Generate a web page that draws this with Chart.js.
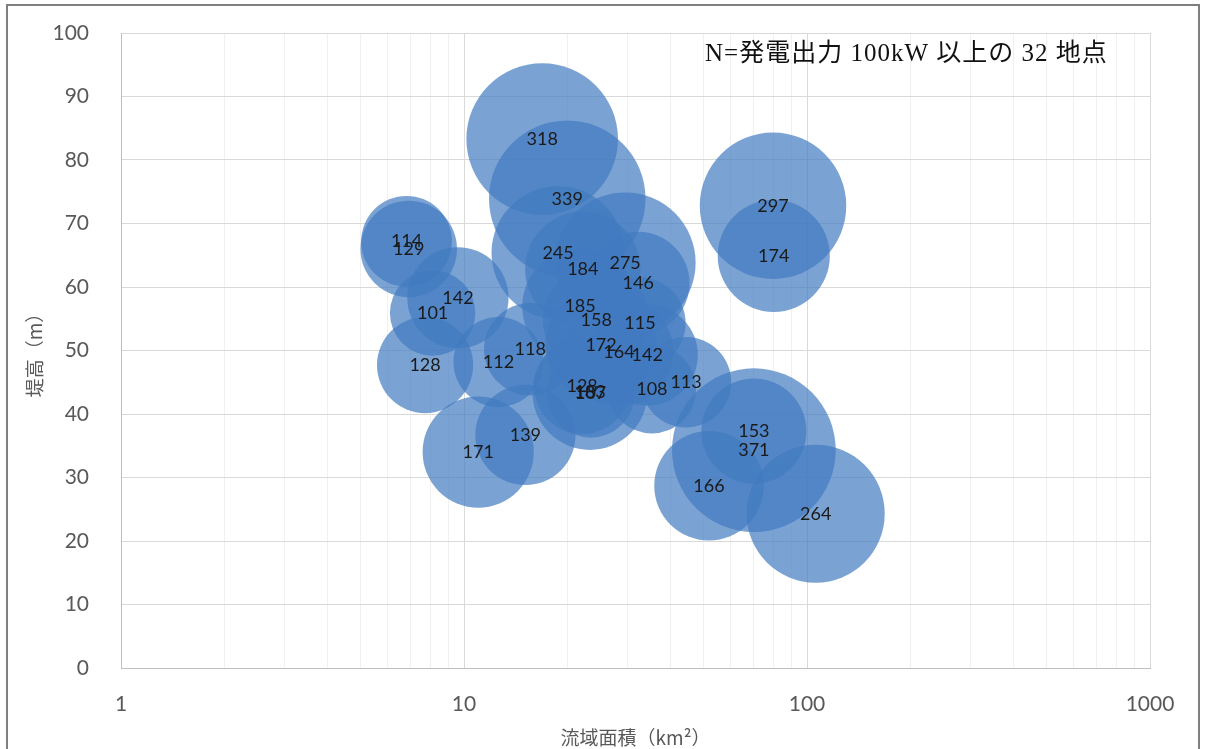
<!DOCTYPE html>
<html>
<head>
<meta charset="utf-8">
<script src="https://cdn.jsdelivr.net/npm/chart.js@4"></script>
<style>
  html, body { margin: 0; padding: 0; background: #fff; }
  #wrap { width: 1205px; height: 749px; position: relative; }
</style>
</head>
<body>
<div id="wrap"><canvas id="bubbleChart"></canvas></div>
<script>
// 流域面積 (km2), 堤高 (m), 発電出力 (kW)
const areaKm2 = [16.9, 20.0, 79.6, 80.0, 6.8, 6.9, 18.8, 22.2, 29.5, 32.2, 9.6, 8.1, 21.8, 24.3, 32.6, 7.7,
  12.6, 15.6, 25.1, 28.3, 34.2, 22.1, 23.3, 23.4, 35.3, 44.4, 15.1, 11.0, 70.0, 70.0, 51.8, 106];
const damHeightM = [83.3, 73.9, 72.8, 64.9, 67.2, 66.0, 65.4, 62.8, 63.8, 60.6, 58.3, 55.9, 56.9, 54.8, 54.3, 47.7,
  48.2, 50.2, 50.9, 49.8, 49.3, 44.4, 43.4, 43.2, 43.9, 45.0, 36.7, 34.0, 37.3, 34.3, 28.7, 24.3];
const outputKw = [318, 339, 297, 174, 114, 129, 245, 184, 275, 146, 142, 101, 185, 158, 115, 128,
  112, 118, 172, 164, 142, 128, 183, 107, 108, 113, 139, 171, 153, 371, 166, 264];

const xTickLabels = [1, 10, 100, 1000];
const yTicks = { min: 0, max: 100, step: 10 };
const noteText = "N=発電出力 100kW 以上の 32 地点";

// バブルの面積が出力に比例するように
const bubbleScale = 4.25;

const points = areaKm2.map((x, i) => ({
  x: x,
  y: damHeightM[i],
  r: bubbleScale * Math.sqrt(outputKw[i]),
  kw: outputKw[i]
}));

// 1-9, 10-90, 100-900, 1000 の目盛り（補助線用）
function logTicks() {
  const list = [];
  for (let d = 0; d < xTickLabels.length - 1; d++) {
    for (let m = 1; m < 10; m++) list.push({ value: m * xTickLabels[d] });
  }
  list.push({ value: xTickLabels[xTickLabels.length - 1] });
  return list;
}

// 背景・枠線・データラベル・注記
const extras = {
  id: "extras",
  beforeDraw(chart) {
    const ctx = chart.ctx;
    ctx.save();
    ctx.fillStyle = "#fff";
    ctx.fillRect(0, 0, chart.width, chart.height);
    ctx.restore();
  },
  afterDatasetsDraw(chart) {
    const ctx = chart.ctx;
    const meta = chart.getDatasetMeta(0);
    ctx.save();
    ctx.font = '18px Lato, "Noto Sans"';
    ctx.fillStyle = "#1a1a1a";
    ctx.textAlign = "center";
    ctx.textBaseline = "middle";
    meta.data.forEach((el, i) => {
      ctx.fillText(String(points[i].kw), el.x, el.y);
    });
    ctx.restore();
  },
  afterDraw(chart) {
    const ctx = chart.ctx;
    ctx.save();
    ctx.strokeStyle = "#7f7f7f";
    ctx.lineWidth = 2;
    ctx.strokeRect(7, 5, 1192, 800);
    ctx.font = '25px "Liberation Serif", "Noto Sans CJK JP"';
    ctx.letterSpacing = "1px";
    ctx.fillStyle = "#111";
    ctx.textAlign = "left";
    ctx.textBaseline = "middle";
    ctx.fillText(noteText, 705, 54);
    ctx.restore();
  }
};

new Chart(document.getElementById("bubbleChart"), {
  type: "bubble",
  data: {
    datasets: [{
      label: "発電出力",
      data: points,
      backgroundColor: "rgba(66, 122, 192, 0.7)",
      borderWidth: 0,
      hoverRadius: 0
    }]
  },
  options: {
    responsive: true,
    maintainAspectRatio: false,
    animation: false,
    events: [],
    layout: { autoPadding: false, padding: { left: 0, top: 33, right: 55, bottom: 0 } },
    plugins: {
      legend: { display: false },
      tooltip: { enabled: false }
    },
    scales: {
      x: {
        type: "logarithmic",
        min: xTickLabels[0],
        max: xTickLabels[xTickLabels.length - 1],
        afterBuildTicks: (scale) => { scale.ticks = logTicks(); },
        afterFit: (scale) => { scale.height = 81; },
        grid: {
          drawTicks: false,
          color: (c) => xTickLabels.includes(c.tick && c.tick.value) ? "#d9d9d9" : "#f0f0f0"
        },
        border: { color: "#bfbfbf" },
        ticks: {
          autoSkip: false,
          maxRotation: 0,
          padding: 24,
          color: "#595959",
          font: { family: "Lato", size: 21 },
          callback: (v) => xTickLabels.includes(v) ? String(v) : ""
        },
        title: {
          display: true,
          text: "流域面積（km²）",
          color: "#595959",
          font: { family: '"Noto Sans CJK JP"', size: 19 },
          padding: { top: 0, bottom: 0 }
        }
      },
      y: {
        min: yTicks.min,
        max: yTicks.max,
        afterFit: (scale) => {
          scale.width = 121;
          // 目盛りラベルの余白で上端が下がらないように
          scale.paddingTop = 0;
          scale.paddingBottom = 0;
        },
        grid: { drawTicks: false, color: "#d9d9d9" },
        border: { color: "#bfbfbf" },
        ticks: {
          stepSize: yTicks.step,
          padding: 32,
          color: "#595959",
          font: { family: "Lato", size: 21 }
        },
        title: {
          display: true,
          text: "堤高（m）",
          color: "#595959",
          font: { family: '"Noto Sans CJK JP"', size: 19 },
          padding: { top: 23, bottom: 0 }
        }
      }
    }
  },
  plugins: [extras]
});
</script>
</body>
</html>
